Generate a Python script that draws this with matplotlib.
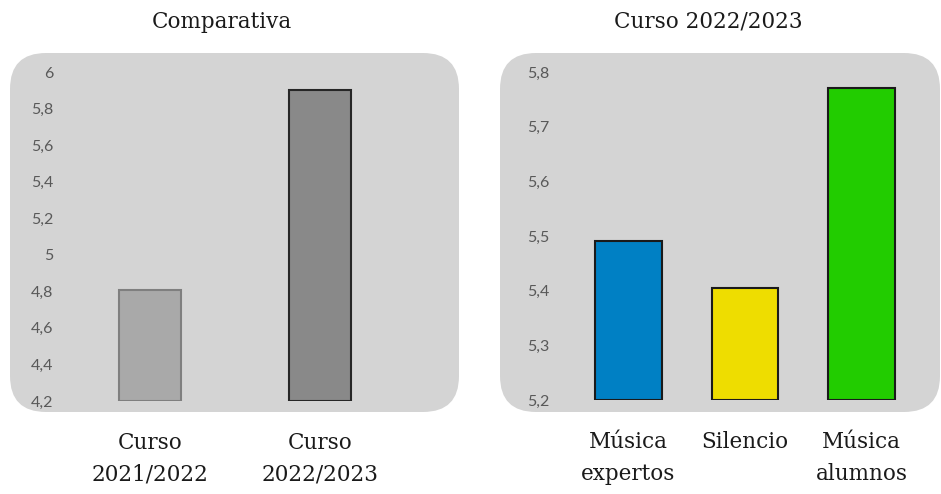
import matplotlib
matplotlib.use("Agg")
import matplotlib.pyplot as plt
from matplotlib.patches import FancyBboxPatch

# data
left_cats = ["Curso\n2021/2022", "Curso\n2022/2023"]
left_vals = [4.81, 5.90]
left_ticks = [4.2, 4.4, 4.6, 4.8, 5.0, 5.2, 5.4, 5.6, 5.8, 6.0]
left_ticklabels = ["4,2", "4,4", "4,6", "4,8", "5", "5,2", "5,4", "5,6", "5,8", "6"]

right_cats = ["Música\nexpertos", "Silencio", "Música\nalumnos"]
right_vals = [5.49, 5.405, 5.77]
right_ticks = [5.2, 5.3, 5.4, 5.5, 5.6, 5.7, 5.8]
right_ticklabels = ["5,2", "5,3", "5,4", "5,5", "5,6", "5,7", "5,8"]

W, H = 941, 494
fig = plt.figure(figsize=(W / 100, H / 100), dpi=100)

BG = "#d4d4d4"
TICK_COLOR = "#595959"
SERIF = "DejaVu Serif"


def px_box(x0, y0, x1, y1):
    # pixel box (top-left origin) -> figure fraction [l, b, w, h]
    return [x0 / W, 1 - y1 / H, (x1 - x0) / W, (y1 - y0) / H]


# rounded grey panels, drawn behind the axes
for (x0, y0, x1, y1) in [(10, 53, 459, 412), (500, 53, 940, 412)]:
    r = 0.36
    patch = FancyBboxPatch(
        (x0 / 100 + r, (H - y1) / 100 + r),
        (x1 - x0) / 100 - 2 * r,
        (y1 - y0) / 100 - 2 * r,
        boxstyle=f"round,pad={r}",
        transform=fig.dpi_scale_trans,
        facecolor=BG,
        edgecolor="none",
        zorder=-5,
    )
    fig.add_artist(patch)

# left panel
ax1 = fig.add_axes(px_box(65, 72, 405, 401))
ax1.bar(range(len(left_vals)), [v - 4.2 for v in left_vals], bottom=4.2,
        width=0.37, color=["#a9a9a9", "#898989"],
        edgecolor=["#7f7f7f", "#262626"], linewidth=1.5)
ax1.set_xlim(-0.5, 1.5)
ax1.set_ylim(4.2, 6.0)
ax1.set_yticks(left_ticks)
ax1.set_yticklabels(left_ticklabels)
ax1.set_xticks(range(len(left_cats)))
ax1.set_xticklabels(left_cats, family=SERIF, fontsize=15.5, color="#1a1a1a",
                    linespacing=1.6)

# right panel
ax2 = fig.add_axes(px_box(570, 72, 920, 400))
ax2.bar(range(len(right_vals)), [v - 5.2 for v in right_vals], bottom=5.2,
        width=0.57, color=["#0080c4", "#eedd00", "#22cc00"],
        edgecolor="#1a1a1a", linewidth=1.5)
ax2.set_xlim(-0.5, 2.5)
ax2.set_ylim(5.2, 5.8)
ax2.set_yticks(right_ticks)
ax2.set_yticklabels(right_ticklabels)
ax2.set_xticks(range(len(right_cats)))
ax2.set_xticklabels(right_cats, family=SERIF, fontsize=15.5, color="#1a1a1a",
                    linespacing=1.6)

for ax, ypad in [(ax1, 8.5), (ax2, 15)]:
    ax.set_zorder(1)
    ax.patch.set_visible(False)
    for s in ax.spines.values():
        s.set_visible(False)
    ax.tick_params(axis="y", length=0, pad=ypad, labelcolor=TICK_COLOR)
    ax.tick_params(axis="x", length=0, pad=22)
    for lbl in ax.get_yticklabels():
        lbl.set_family("Lato")
        lbl.set_fontsize(11.5)
    for lbl in ax.get_xticklabels():
        lbl.set_verticalalignment("top")

fig.text(222 / W, 1 - 22 / H, "Comparativa", family=SERIF, fontsize=15.5,
         ha="center", va="center", color="#1a1a1a")
fig.text(708 / W, 1 - 22 / H, "Curso 2022/2023", family=SERIF, fontsize=15.5,
         ha="center", va="center", color="#1a1a1a")

fig.savefig("out.png", dpi=100, facecolor="white")
